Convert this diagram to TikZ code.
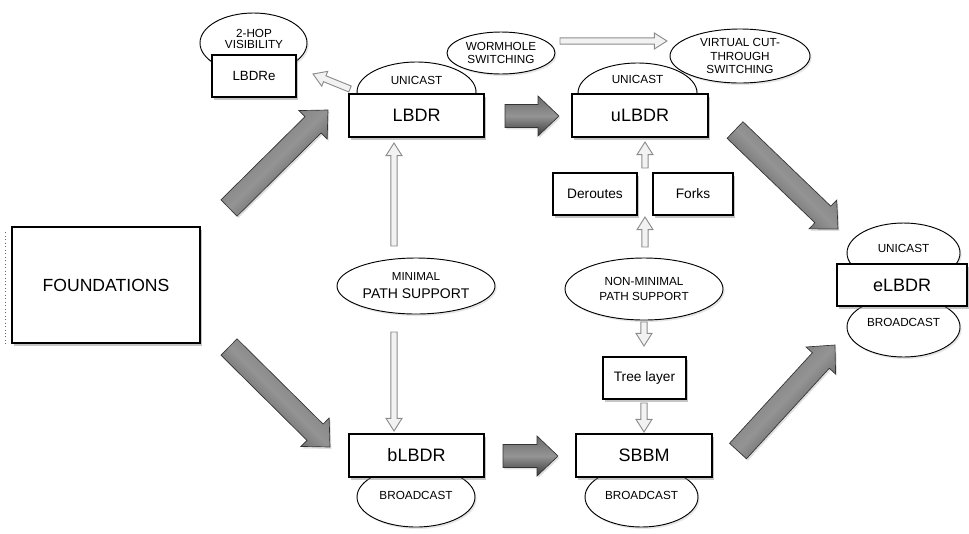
\documentclass[tikz,border=0pt]{standalone}
\usepackage{fontspec}
\setmainfont{Liberation Sans}
\usetikzlibrary{shapes.geometric,shadows,calc}
\newcommand{\arrpoly}[6]{%
  \path ($(#2)!#5!(#1)$) coordinate (ap-b);
  \path[#6] ($(#1)!#3!90:(#2)$) -- ($(ap-b)!#3!90:(#2)$) -- ($(ap-b)!#4!90:(#2)$) -- (#2) -- ($(ap-b)!#4!-90:(#2)$) -- ($(ap-b)!#3!-90:(#2)$) -- ($(#1)!#3!-90:(#2)$) -- cycle;}
\newcommand{\bigarr}[3]{\arrpoly{#1}{#2}{8.6pt}{15pt}{15.75pt}{bigarrow, shading angle=#3}}
\newcommand{\thinarr}[2]{\arrpoly{#1}{#2}{2.4pt}{6pt}{9.5pt}{hollow}}
\tikzset{
  bigarrow/.style={draw=black!80, line width=0.5pt, top color=black!58, bottom color=black!78, middle color=black!42,
     drop shadow={opacity=0.25, shadow xshift=1pt, shadow yshift=-1.5pt}},
  hollow/.style={draw=black!45, fill=black!5, line width=0.7pt},
  box/.style={draw, fill=white, line width=0.8pt, inner sep=0pt,
     drop shadow={opacity=0.45, shadow xshift=1.8pt, shadow yshift=-2.2pt}},
  oval/.style={ellipse, draw, fill=white, line width=0.7pt, inner sep=0pt,
     drop shadow={opacity=0.2, shadow xshift=1.2pt, shadow yshift=-1.5pt}},
  wh/.style 2 args={minimum width=#1*0.75pt, minimum height=#2*0.75pt},
  bigtxt/.style={font=\fontsize{13.5}{16}\selectfont},
  medtxt/.style={font=\fontsize{10.3}{12}\selectfont},
  smltxt/.style={font=\fontsize{8.8}{9.8}\selectfont, align=center},
}
\begin{document}
\begin{tikzpicture}[x=0.75pt,y=-0.75pt]
\useasboundingbox (0,0) rectangle (969,533);
% ellipses
\node[oval, wh={107}{60}] (hop) at (253.5,43) {};
\node[oval, wh={119}{60}] (uni1) at (416.5,92) {};
\node[oval, wh={108}{42}, smltxt, font=\fontsize{8.8}{9.8}\selectfont] (worm) at (501,53) {WORMHOLE\\SWITCHING};
\node[oval, wh={119}{60}] (uni2) at (637.5,93) {};
\node[oval, wh={140}{54}, smltxt] (vct) at (740,56) {VIRTUAL CUT-\\THROUGH\\SWITCHING};
\node[oval, wh={158}{56}, align=center] (minp) at (416,286) {{\fontsize{8.7}{9}\selectfont MINIMAL}\\[1.5pt]{\fontsize{10.5}{11}\selectfont PATH SUPPORT}};
\node[oval, wh={158}{62}, smltxt, font=\fontsize{8.8}{11}\selectfont] (nonmin) at (644,289) {NON-MINIMAL\\PATH SUPPORT};
\node[oval, wh={113}{60}] (uni3) at (903.5,253) {};
\node[oval, wh={113}{60}] (bro3) at (903.5,327) {};
\node[oval, wh={118}{60}] (bro1) at (416,497) {};
\node[oval, wh={113}{60}] (bro2) at (641.5,497) {};
% boxes
\node[box, wh={188}{116}, font=\fontsize{13.2}{16}\selectfont] (found) at (106,285) {FOUNDATIONS};
\node[box, wh={135}{43}, bigtxt] (lbdr) at (416.5,115.5) {LBDR};
\node[box, wh={136}{43}, bigtxt] (ulbdr) at (640,115.5) {uLBDR};
\node[box, wh={135}{43}, bigtxt] (blbdr) at (416.5,455.5) {bLBDR};
\node[box, wh={136}{43}, bigtxt] (sbbm) at (644,455.5) {SBBM};
\node[box, wh={84}{42}, font=\fontsize{10}{12}\selectfont] (lbdre) at (254,76) {LBDRe};
\node[box, wh={84}{42}, medtxt] (der) at (595,194) {Deroutes};
\node[box, wh={80}{42}, medtxt] (forks) at (693,194) {Forks};
\node[box, wh={83}{42}, medtxt] (tree) at (644.5,378) {Tree layer};
\node[box, wh={130}{42}, bigtxt] (elbdr) at (902,285) {eLBDR};
% texts in partly hidden ellipses
\node[smltxt, font=\fontsize{8.8}{8.3}\selectfont] (hopt) at (254,39) {2-HOP\\VISIBILITY};
\node[smltxt] (uni1t) at (416.5,80) {UNICAST};
\node[smltxt] (uni2t) at (637.5,79) {UNICAST};
\node[smltxt] (uni3t) at (903.5,248) {UNICAST};
\node[smltxt] (bro3t) at (903.5,322) {BROADCAST};
\node[smltxt] (bro1t) at (416,495) {BROADCAST};
\node[smltxt] (bro2t) at (641.5,495) {BROADCAST};
% dotted edge at left
\draw[dotted, black!60, line width=0.6pt] ($(found.north west)+(-6,6)$) -- ($(found.south west)+(-6,0)$);
% big arrows
\coordinate (a1s) at (229,208); \coordinate (a1e) at (328,110);
\coordinate (a2s) at (229,347); \coordinate (a2e) at (330,447);
\coordinate (a3s) at (505,116); \coordinate (a3e) at (559,116);
\coordinate (a4s) at (503,456); \coordinate (a4e) at (558,456);
\coordinate (a5s) at (735,130); \coordinate (a5e) at (838,229);
\coordinate (a6s) at (738,451); \coordinate (a6e) at (835,345);
\bigarr{a1s}{a1e}{45}
\bigarr{a2s}{a2e}{-45}
\bigarr{a3s}{a3e}{0}
\bigarr{a4s}{a4e}{0}
\bigarr{a5s}{a5e}{-45}
\bigarr{a6s}{a6e}{47}
% thin hollow arrows
\coordinate (h1s) at (394,246); \coordinate (h1e) at (394,143);
\coordinate (h2s) at (394,332); \coordinate (h2e) at (394,431);
\coordinate (h3s) at (644,322); \coordinate (h3e) at (644,346);
\coordinate (h4s) at (644,403); \coordinate (h4e) at (644,432);
\coordinate (h5s) at (645,168); \coordinate (h5e) at (645,142);
\coordinate (h6s) at (645,247); \coordinate (h6e) at (645,217);
\coordinate (h7s) at (350,89);  \coordinate (h7e) at (313,74);
\coordinate (h8s) at (560,41);  \coordinate (h8e) at (667,41);
\thinarr{h1s}{h1e}
\thinarr{h2s}{h2e}
\thinarr{h3s}{h3e}
\thinarr{h4s}{h4e}
\thinarr{h5s}{h5e}
\thinarr{h6s}{h6e}
\thinarr{h7s}{h7e}
\thinarr{h8s}{h8e}
\end{tikzpicture}
\end{document}
